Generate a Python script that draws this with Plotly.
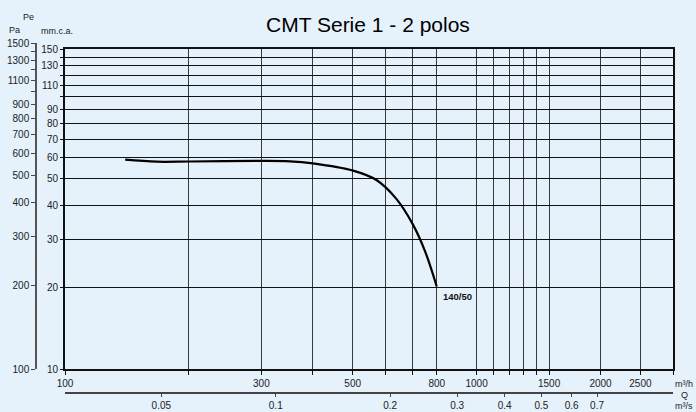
import math
import plotly.graph_objects as go

# ---- data ----
flow_m3h = [140, 167, 201, 300, 352, 400, 501, 571, 639, 700, 750, 800]
pressure_mm = [58.8, 57.8, 57.9, 58.2, 58.0, 57.0, 53.6, 49.5, 42.1, 34.0, 27.0, 20.1]
curve_label = "140/50"

x_tickvals = [100, 200, 300, 400, 500, 600, 700, 800, 1000, 1100, 1200, 1300, 1400, 1500, 2000, 2500, 3000]
x_ticktext = ["100", "", "300", "", "500", "", "", "800", "1000", "", "", "", "", "1500", "2000", "2500", ""]

mm_tickvals = [10, 20, 30, 40, 50, 60, 70, 80, 90, 100, 110, 120, 130, 140, 150]
mm_ticktext = ["10", "20", "30", "40", "50", "60", "70", "80", "90", "", "110", "", "130", "", "150"]

pa_tickvals = [100, 200, 300, 400, 500, 600, 700, 800, 900, 1000, 1100, 1200, 1300, 1400, 1500]
pa_ticktext = ["100", "200", "300", "400", "500", "600", "700", "800", "900", "", "1100", "", "1300", "", "1500"]

m3s_tickvals = [0.05, 0.1, 0.2, 0.3, 0.4, 0.5, 0.6, 0.7]
m3s_ticktext = ["0.05", "0.1", "0.2", "0.3", "0.4", "0.5", "0.6", "0.7"]

MM_TO_PA = 9.81
W, H = 696, 412
ML, MR, MT, MB = 36, 23, 43, 19
PW, PH = W - ML - MR, H - MT - MB
BG = "#E5F1FB"
FONT = "Liberation Sans, Arial, sans-serif"


def px(x):
    return (x - ML) / PW


def py(y):
    return (H - MB - y) / PH


X_DOMAIN = [px(65), 1]
Y_DOMAIN = [py(369), py(49)]
Y2_DOMAIN = [py(369), 1]

fig = go.Figure()

fig.add_trace(go.Scatter(
    x=flow_m3h, y=pressure_mm, mode="lines",
    line=dict(color="black", width=2.2, shape="spline", smoothing=1.0),
    hoverinfo="skip", showlegend=False,
))
# invisible helper traces so the secondary axes exist
fig.add_trace(go.Scatter(
    x=flow_m3h, y=[p * MM_TO_PA for p in pressure_mm], xaxis="x3", yaxis="y2", mode="markers",
    marker=dict(opacity=0), hoverinfo="skip", showlegend=False,
))
fig.add_trace(go.Scatter(
    x=[q / 3600 for q in flow_m3h], y=pressure_mm, xaxis="x2", mode="markers",
    marker=dict(opacity=0), hoverinfo="skip", showlegend=False,
))

tickfont = dict(family=FONT, size=10, color="#222")

fig.update_layout(
    width=W, height=H,
    margin=dict(l=ML, r=MR, t=MT, b=MB, pad=0, autoexpand=False),
    paper_bgcolor=BG, plot_bgcolor="rgba(0,0,0,0)",
    font=dict(family=FONT),
    xaxis=dict(
        type="log", range=[math.log10(100), math.log10(3000)],
        domain=X_DOMAIN, automargin=False,
        tickvals=x_tickvals, ticktext=x_ticktext, tickfont=tickfont,
        showgrid=True, gridcolor="#3a3a3a", gridwidth=1.2,
        showline=True, linecolor="#111", linewidth=2, mirror=True,
        ticks="outside", ticklen=4, tickcolor="#111",
        anchor="y", zeroline=False,
    ),
    yaxis=dict(
        type="log", range=[1, math.log10(150)],
        domain=Y_DOMAIN, automargin=False,
        tickvals=mm_tickvals, ticktext=mm_ticktext, tickfont=tickfont,
        showgrid=True, gridcolor="#111", gridwidth=1.2,
        showline=True, linecolor="#111", linewidth=2, mirror=True,
        ticks="outside", ticklen=3, tickcolor="#111",
        anchor="x", zeroline=False,
    ),
    xaxis3=dict(
        type="log", range=[math.log10(100), math.log10(3000)],
        domain=X_DOMAIN, anchor="y2", visible=False, showgrid=False, zeroline=False,
    ),
    yaxis2=dict(
        type="log", range=[2, math.log10(1500)],
        domain=Y2_DOMAIN, anchor="free", position=0, side="left", automargin=False,
        tickvals=pa_tickvals, ticktext=pa_ticktext, tickfont=tickfont,
        showgrid=False, showline=True, linecolor="#555", linewidth=1.5,
        ticks="outside", ticklen=4, tickcolor="#444", zeroline=False,
    ),
    xaxis2=dict(
        type="log", range=[math.log10(0.0279), math.log10(1.109)],
        overlaying="x", anchor="free", position=0, side="bottom", automargin=False,
        tickvals=m3s_tickvals, ticktext=m3s_ticktext, tickfont=tickfont,
        showgrid=False, showline=True, linecolor="#444", linewidth=1.5,
        ticks="outside", ticklen=3, tickcolor="#444", zeroline=False,
    ),
)

ann = [
    dict(text="CMT Serie 1 - 2 polos", x=px(368), y=py(24), font=dict(size=21, color="black")),
    dict(text="Pe", x=px(28), y=py(17), font=dict(size=9, color="#222")),
    dict(text="Pa", x=px(14), y=py(30), font=dict(size=9, color="#222")),
    dict(text="mm.c.a.", x=px(57), y=py(31), font=dict(size=9, color="#222")),
    dict(text="m³/h", x=px(684), y=py(384), font=dict(size=9, color="#222")),
    dict(text="Q", x=px(684), y=py(395), font=dict(size=9, color="#222")),
    dict(text="m³/s", x=px(684), y=py(406), font=dict(size=9, color="#222")),
]
for a in ann:
    fig.add_annotation(xref="paper", yref="paper", showarrow=False,
                       xanchor="center", yanchor="middle", **a)

fig.add_annotation(
    x=math.log10(flow_m3h[-1]), y=math.log10(pressure_mm[-1]), xref="x", yref="y",
    text="<b>" + curve_label + "</b>", showarrow=False, xanchor="left", yanchor="top",
    xshift=4, yshift=-2, font=dict(size=9.5, color="#111"),
)

fig.write_html("out.html", config={"displayModeBar": False},
               post_script="document.body.style.margin='0px';document.body.style.background='%s';" % BG)
